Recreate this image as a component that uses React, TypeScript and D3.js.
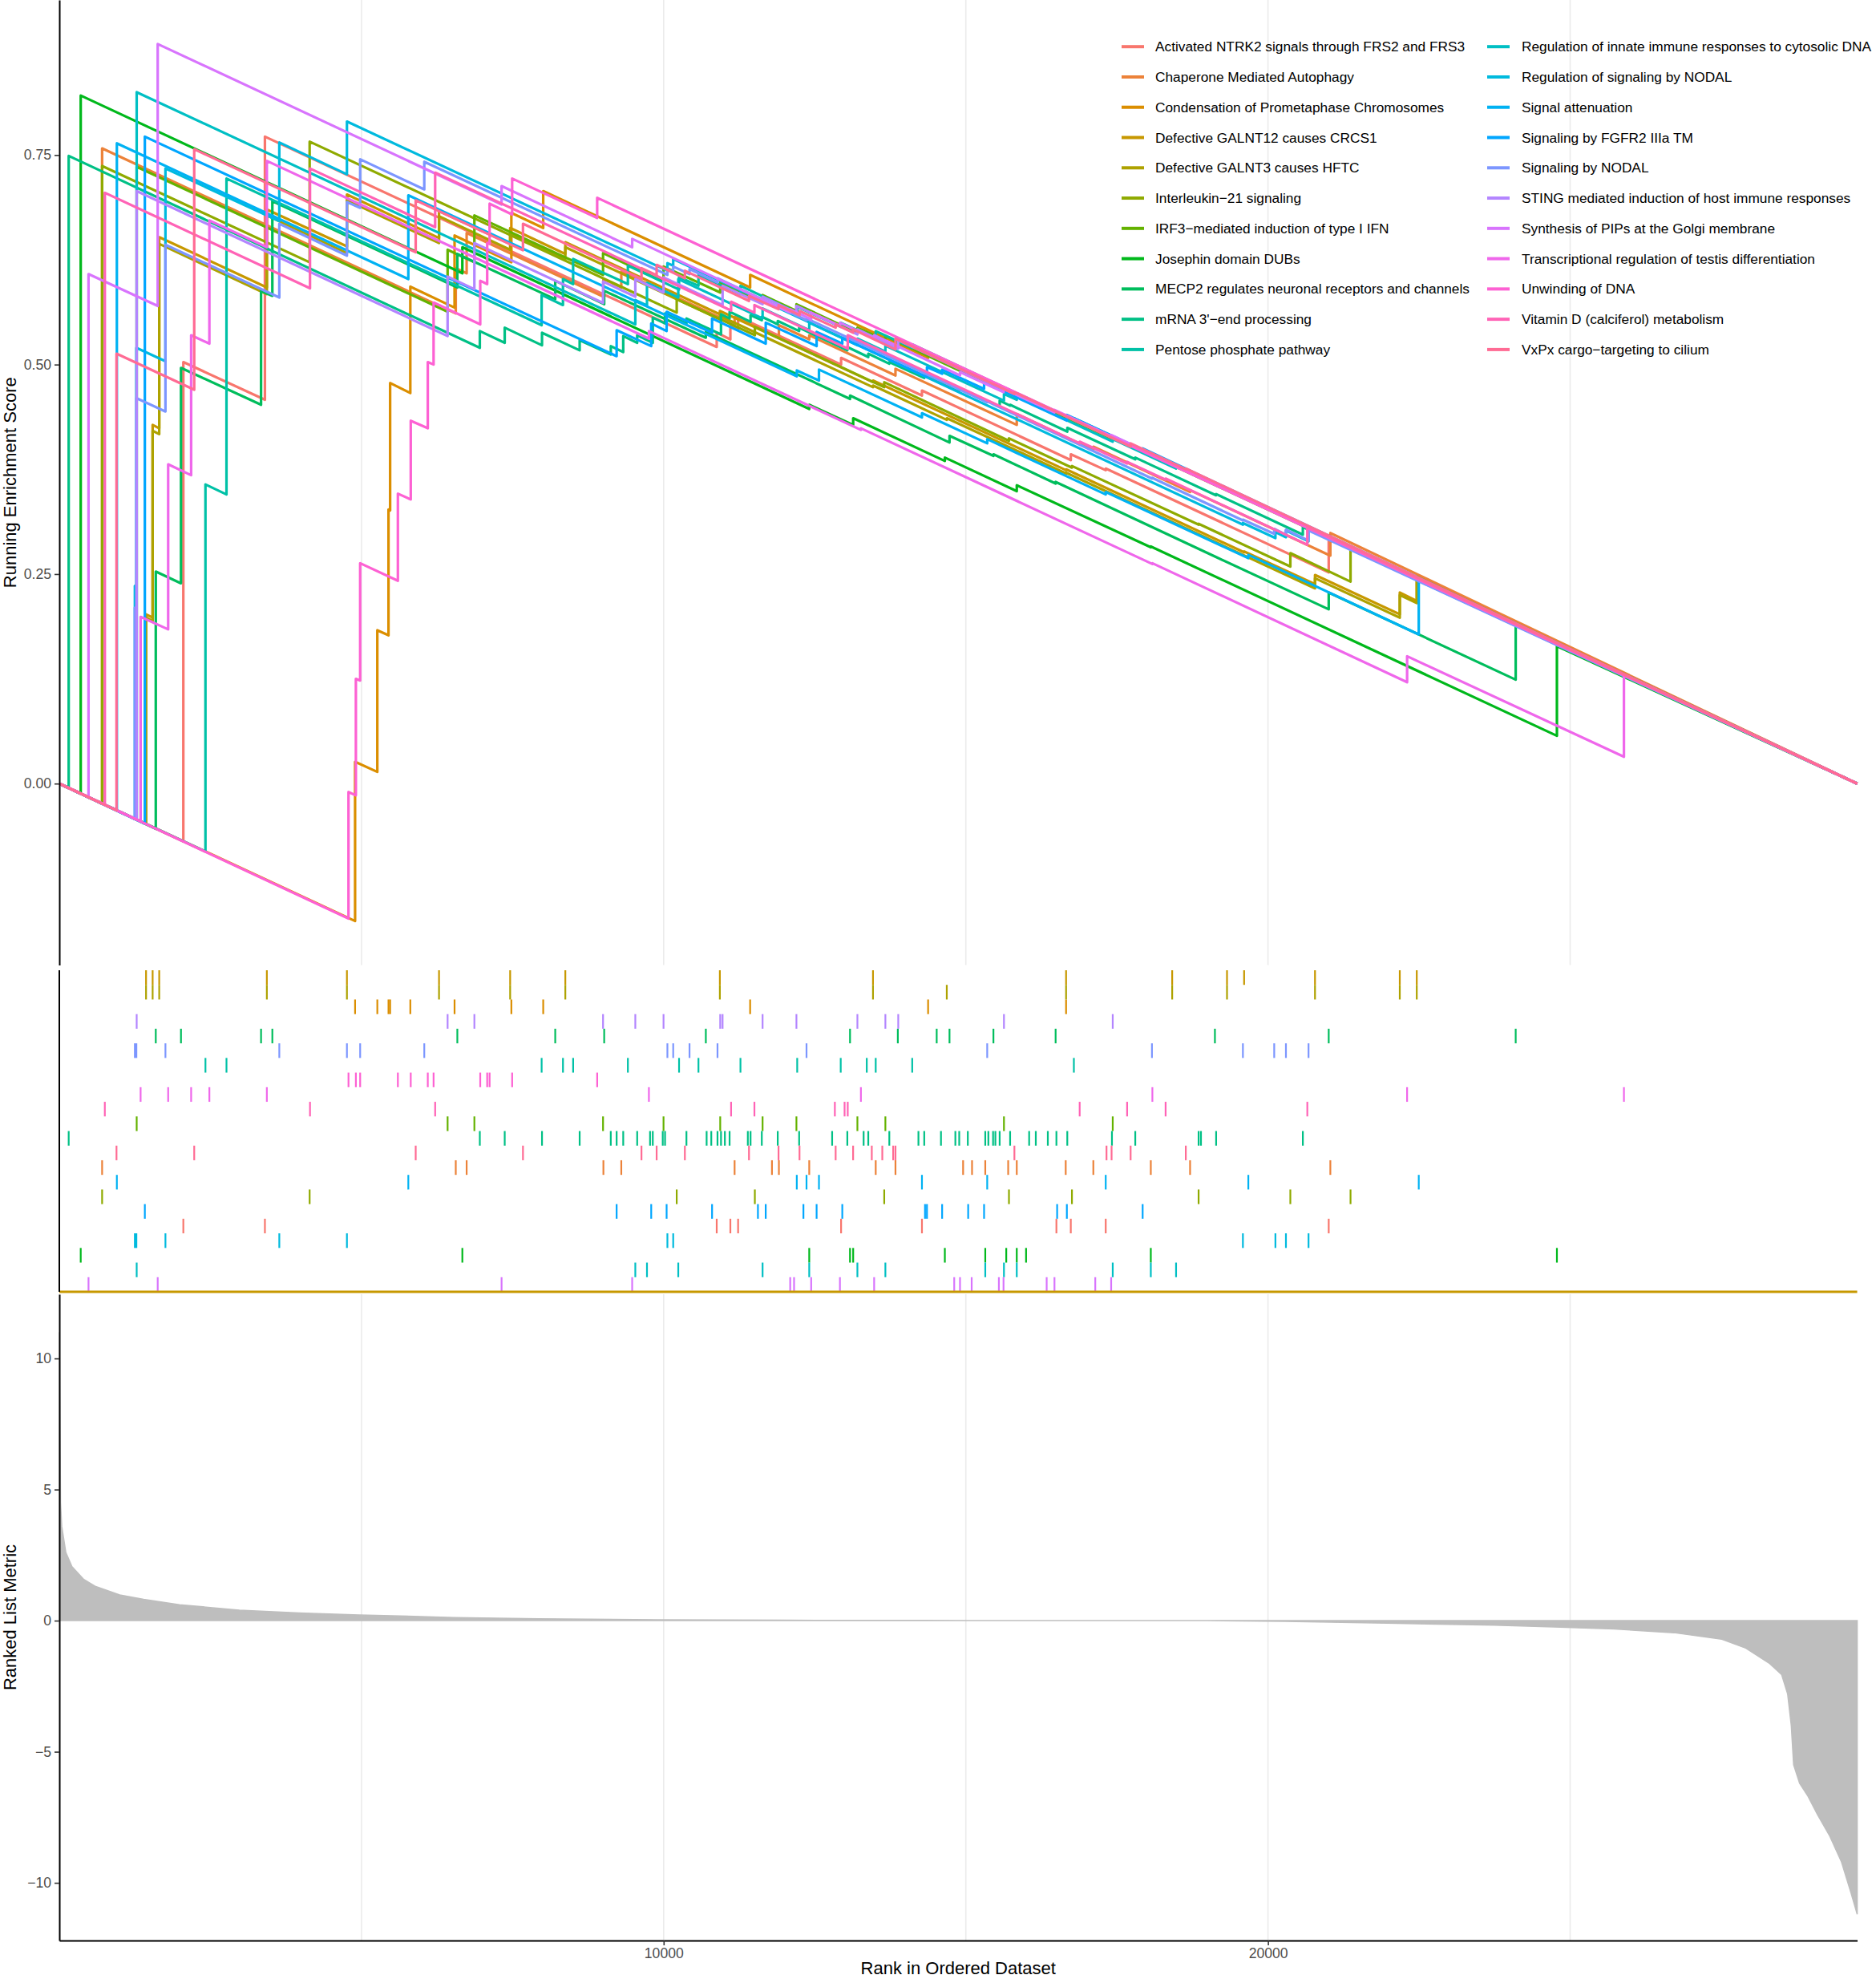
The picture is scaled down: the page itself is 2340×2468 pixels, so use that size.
import { useEffect, useRef } from "react";
import * as d3 from "d3";

// gene sets, in legend order (ggplot colours follow this order)
const setNames = [
  "Activated NTRK2 signals through FRS2 and FRS3",
  "Chaperone Mediated Autophagy",
  "Condensation of Prometaphase Chromosomes",
  "Defective GALNT12 causes CRCS1",
  "Defective GALNT3 causes HFTC",
  "Interleukin\u221221 signaling",
  "IRF3\u2212mediated induction of type I IFN",
  "Josephin domain DUBs",
  "MECP2 regulates neuronal receptors and channels",
  "mRNA 3'\u2212end processing",
  "Pentose phosphate pathway",
  "Regulation of innate immune responses to cytosolic DNA",
  "Regulation of signaling by NODAL",
  "Signal attenuation",
  "Signaling by FGFR2 IIIa TM",
  "Signaling by NODAL",
  "STING mediated induction of host immune responses",
  "Synthesis of PIPs at the Golgi membrane",
  "Transcriptional regulation of testis differentiation",
  "Unwinding of DNA",
  "Vitamin D (calciferol) metabolism",
  "VxPx cargo\u2212targeting to cilium",
];

// row of each set in the hit panel, 1 = top row
const rugRows = [18, 14, 3, 1, 2, 16, 11, 20, 5, 12, 7, 21, 19, 15, 17, 6, 4, 22, 9, 8, 10, 13];

// ranks of the genes of each set (hit panel)
const hitsNTRK2 = [2052, 3402, 10878, 11104, 11232, 12936, 14274, 16499, 16737, 17315, 21005];
const hitsChaperone = [708, 6560, 6740, 9003, 9299, 11174, 11792, 11907, 12409, 13509, 13836, 14955, 15103, 15322, 15701, 15843, 16653, 17110, 18061, 18711, 21032];
const hitsCondensation = [4894, 5262, 5447, 5474, 5808, 6540, 7480, 8007, 11431, 14376, 16659];
const hitsGALNT12 = [1435, 1544, 1653, 3434, 4759, 6283, 7460, 8373, 10930, 13464, 16659, 18415, 19322, 19605, 20778, 22181, 22462];
const hitsGALNT3 = [1435, 1544, 1653, 3434, 4759, 6283, 7460, 8373, 10930, 13464, 14685, 16659, 18415, 19322, 20778, 22181, 22462];
const hitsIL21 = [708, 4142, 10216, 11509, 13650, 15714, 16756, 18852, 20370, 21366];
const hitsIRF3 = [1280, 6425, 6868, 8997, 9998, 10936, 11637, 12197, 13206, 13669, 15631, 17431];
const hitsJosephin = [354, 6669, 12409, 13084, 13136, 14653, 15322, 15669, 15843, 15997, 18061, 24781];
const hitsMECP2 = [1596, 2013, 3338, 3525, 6586, 8206, 9016, 10698, 13084, 13875, 14518, 14730, 15457, 16486, 19122, 21005, 24099];
const hitsMRNA = [155, 6958, 7370, 7987, 8610, 9125, 9222, 9331, 9562, 9775, 9820, 9985, 10023, 10377, 10711, 10788, 10891, 10949, 11013, 11091, 11393, 11438, 11624, 11888, 12242, 12788, 13039, 13309, 13386, 13734, 14216, 14312, 14589, 14827, 14891, 15033, 15322, 15373, 15451, 15489, 15560, 15733, 16048, 16158, 16357, 16499, 16679, 17418, 17804, 18852, 18891, 19142, 20577];
const hitsPentose = [2418, 2766, 7981, 8334, 8502, 9408, 10255, 10576, 11271, 12210, 12930, 13361, 13509, 14113, 16788];
const hitsRegInnate = [1280, 9531, 9724, 10242, 11637, 12409, 13206, 13669, 15322, 15631, 15843, 17431, 18061, 18479];
const hitsRegNODAL = [1250, 1275, 1756, 3640, 4759, 10062, 10158, 19585, 20123, 20297, 20671];
const hitsSignalAtt = [952, 5775, 12203, 12364, 12570, 14274, 15354, 17315, 19675, 22495];
const hitsFGFR2 = [1415, 9222, 9794, 10049, 10801, 11560, 11689, 12313, 12531, 12956, 14325, 14357, 14608, 15039, 15302, 16511, 16672, 17926];
const hitsSigNODAL = [1250, 1275, 1756, 3640, 4759, 4978, 6039, 10062, 10158, 10428, 10891, 12364, 15354, 18080, 19585, 20103, 20297, 20671];
const hitsSTING = [1280, 6425, 6868, 8997, 9531, 9998, 10936, 10975, 11637, 12197, 13206, 13669, 13882, 15631, 17431];
const hitsPIPs = [483, 1628, 7318, 9479, 12094, 12158, 12441, 12917, 13483, 14808, 14904, 15097, 15547, 15624, 16338, 16467, 17142, 17405];
const hitsTestis = [1345, 1801, 2181, 2483, 3434, 9756, 13264, 18087, 22302, 25890];
const hitsUnwinding = [4785, 4907, 4978, 5602, 5815, 6097, 6193, 6965, 7080, 7120, 7493, 8900];
const hitsVitD = [753, 4148, 6219, 11116, 11502, 12833, 12994, 13046, 16884, 17669, 18306, 20651];
const hitsVxPx = [946, 2232, 5897, 7672, 9633, 9884, 10351, 11412, 11901, 12248, 12846, 13135, 13444, 13618, 13798, 13836, 15804, 17328, 17412, 17727, 18640];

const setHits = [hitsNTRK2, hitsChaperone, hitsCondensation, hitsGALNT12, hitsGALNT3, hitsIL21, hitsIRF3, hitsJosephin,
  hitsMECP2, hitsMRNA, hitsPentose, hitsRegInnate, hitsRegNODAL, hitsSignalAtt, hitsFGFR2, hitsSigNODAL, hitsSTING,
  hitsPIPs, hitsTestis, hitsUnwinding, hitsVitD, hitsVxPx];

// running enrichment score at the visible steps: [rank, ES before step, ES after step]
const esNTRK2 = [[2052, -0.069, 0.503], [3402, 0.458, 0.772], [10878, 0.521, 0.538], [11104, 0.530, 0.546], [11232, 0.542, 0.557], [12936, 0.500, 0.508], [14274, 0.463, 0.469], [16737, 0.386, 0.393], [17315, 0.374, 0.376], [21005, 0.252, 0.294]];
const esChaperone = [[708, -0.024, 0.758], [6560, 0.561, 0.615], [6740, 0.609, 0.657], [9003, 0.581, 0.602], [9299, 0.592, 0.611], [11174, 0.548, 0.557], [11907, 0.532, 0.547], [12409, 0.530, 0.535], [13836, 0.487, 0.495], [15843, 0.428, 0.441], [17110, 0.398, 0.402], [18711, 0.348, 0.350], [21032, 0.272, 0.299]];
const esCondensation = [[4894, -0.164, 0.026], [5262, 0.014, 0.183], [5447, 0.177, 0.327], [5474, 0.326, 0.478], [5808, 0.466, 0.593], [6540, 0.568, 0.654], [7480, 0.622, 0.681], [8007, 0.663, 0.707], [11431, 0.592, 0.607], [14376, 0.508, 0.514], [16659, 0.437, 0.440]];
const esGALNT12 = [[1435, -0.048, 0.202], [1544, 0.198, 0.428], [1653, 0.424, 0.652], [3434, 0.592, 0.685], [4759, 0.641, 0.703], [6283, 0.651, 0.683], [7460, 0.644, 0.663], [8373, 0.632, 0.646], [10930, 0.560, 0.564], [13464, 0.479, 0.481], [16659, 0.374, 0.375], [19605, 0.276, 0.277], [20778, 0.238, 0.249], [22181, 0.202, 0.228], [22462, 0.218, 0.247]];
const esGALNT3 = [[1435, -0.048, 0.198], [1544, 0.194, 0.421], [1653, 0.417, 0.644], [3434, 0.584, 0.678], [4759, 0.633, 0.696], [6283, 0.645, 0.677], [7460, 0.637, 0.657], [8373, 0.626, 0.640], [10930, 0.554, 0.558], [13464, 0.473, 0.475], [14685, 0.434, 0.436], [16659, 0.370, 0.371], [20778, 0.233, 0.245], [22181, 0.198, 0.225], [22462, 0.2155, 0.246]];
const esIL21 = [[708, -0.024, 0.737], [4142, 0.622, 0.766], [10216, 0.562, 0.578], [11509, 0.535, 0.545], [13650, 0.473, 0.479], [15714, 0.409, 0.412], [16756, 0.377, 0.379], [18852, 0.309, 0.310], [20370, 0.259, 0.275], [21366, 0.241, 0.281]];
const esIRF3 = [[1280, -0.043, 0.736], [6425, 0.563, 0.637], [6868, 0.622, 0.678], [8997, 0.607, 0.633], [9998, 0.599, 0.617], [10936, 0.586, 0.598], [11637, 0.574, 0.583], [12197, 0.564, 0.572], [13206, 0.538, 0.544], [13669, 0.529, 0.534], [15631, 0.468, 0.471], [17431, 0.411, 0.413]];
const esJosephin = [[354, -0.012, 0.821], [6669, 0.609, 0.640], [12409, 0.447, 0.452], [13136, 0.428, 0.436], [14653, 0.385, 0.389], [15843, 0.349, 0.356], [18061, 0.282, 0.283], [24781, 0.057, 0.164]];
const esMECP2 = [[1596, -0.054, 0.253], [2013, 0.239, 0.496], [3338, 0.452, 0.588], [3525, 0.582, 0.695], [6586, 0.592, 0.632], [8206, 0.578, 0.600], [9016, 0.572, 0.588], [10698, 0.532, 0.539], [13084, 0.459, 0.463], [14730, 0.407, 0.415], [15457, 0.391, 0.393], [16486, 0.358, 0.360], [19122, 0.271, 0.271], [21005, 0.208, 0.228], [24099, 0.124, 0.190]];
const esMRNA = [[155, -0.005, 0.749], [6958, 0.520, 0.540], [7370, 0.526, 0.544], [7987, 0.523, 0.538], [8610, 0.517, 0.529], [9125, 0.512, 0.522], [9331, 0.515, 0.534], [9562, 0.526, 0.535], [9820, 0.526, 0.556], [10023, 0.549, 0.561], [10377, 0.549, 0.555], [10949, 0.536, 0.560], [11091, 0.555, 0.563], [11438, 0.551, 0.559], [11624, 0.553, 0.557], [11888, 0.548, 0.552], [12242, 0.540, 0.544], [13039, 0.517, 0.521], [13386, 0.509, 0.513], [13734, 0.501, 0.503], [14312, 0.484, 0.487], [14891, 0.4675, 0.471], [15033, 0.466, 0.4675], [15560, 0.450, 0.457], [15733, 0.451, 0.452], [16679, 0.420, 0.4245], [17804, 0.387, 0.389], [19142, 0.344, 0.3455], [20577, 0.297, 0.306]];
const esPentose = [[2418, -0.081, 0.357], [2766, 0.345, 0.722], [7981, 0.547, 0.583], [8334, 0.571, 0.602], [8502, 0.596, 0.626], [9408, 0.596, 0.618], [10255, 0.5895, 0.6045], [10576, 0.594, 0.607], [11271, 0.584, 0.594], [12210, 0.562, 0.569], [12930, 0.545, 0.550], [13509, 0.531, 0.540], [14113, 0.520, 0.524], [16788, 0.434, 0.436]];
const esRegInnate = [[1280, -0.043, 0.825], [9531, 0.548, 0.577], [9724, 0.5705, 0.5975], [10242, 0.580, 0.602], [11637, 0.555, 0.567], [12409, 0.541, 0.550], [13206, 0.523, 0.531], [13669, 0.5155, 0.5225], [15631, 0.457, 0.465], [15843, 0.458, 0.4615], [17431, 0.408, 0.411], [18479, 0.376, 0.379]];
const esRegNODAL = [[1250, -0.042, 0.236], [1275, 0.235, 0.520], [1756, 0.504, 0.734], [3640, 0.671, 0.765], [4759, 0.727, 0.790], [10062, 0.612, 0.621], [10158, 0.618, 0.626], [19585, 0.309, 0.311], [20123, 0.293, 0.300], [20297, 0.294, 0.302], [20671, 0.289, 0.305]];
const esSignalAtt = [[952, -0.032, 0.764], [5775, 0.602, 0.702], [12203, 0.486, 0.493], [12570, 0.481, 0.494], [14274, 0.437, 0.442], [15354, 0.406, 0.411], [17315, 0.345, 0.348], [19675, 0.269, 0.273], [22495, 0.178, 0.244]];
const esFGFR2 = [[1415, -0.048, 0.772], [9222, 0.510, 0.541], [9794, 0.522, 0.549], [10049, 0.540, 0.563], [10801, 0.538, 0.555], [11689, 0.525, 0.550], [12531, 0.522, 0.539], [12956, 0.525, 0.532], [14357, 0.485, 0.497], [14608, 0.489, 0.494], [15302, 0.471, 0.479], [16672, 0.433, 0.440], [17926, 0.398, 0.400]];
const esSigNODAL = [[1250, -0.042, 0.210], [1275, 0.209, 0.460], [1756, 0.444, 0.643], [3640, 0.580, 0.668], [4759, 0.630, 0.694], [4978, 0.687, 0.745], [6039, 0.709, 0.742], [10062, 0.607, 0.614], [10158, 0.611, 0.617], [10428, 0.608, 0.614], [10891, 0.598, 0.603], [12364, 0.553, 0.555], [15354, 0.455, 0.456], [18080, 0.364, 0.365], [19585, 0.314, 0.315], [20103, 0.298, 0.304], [20297, 0.297, 0.303], [20671, 0.290, 0.302]];
const esSTING = [[1280, -0.043, 0.707], [6425, 0.534, 0.605], [6868, 0.590, 0.645], [8997, 0.5735, 0.599], [9531, 0.581, 0.602], [9998, 0.586, 0.604], [10975, 0.571, 0.594], [11637, 0.572, 0.581], [12197, 0.562, 0.570], [13206, 0.536, 0.542], [13882, 0.519, 0.529], [15631, 0.470, 0.473], [17431, 0.4125, 0.4145]];
const esPIPs = [[483, -0.016, 0.608], [1628, 0.570, 0.8825], [7318, 0.691, 0.713], [9479, 0.640, 0.650], [12094, 0.562, 0.566], [12441, 0.554, 0.562], [12917, 0.546, 0.550], [13483, 0.531, 0.535], [14904, 0.487, 0.491], [15624, 0.467, 0.471], [16467, 0.443, 0.446], [17405, 0.4145, 0.416]];
const esTestis = [[1345, -0.045, 0.199], [1801, 0.184, 0.381], [2181, 0.368, 0.535], [2483, 0.525, 0.672], [3434, 0.640, 0.743], [9756, 0.531, 0.540], [13264, 0.422, 0.424], [18087, 0.262, 0.263], [22302, 0.121, 0.152], [25890, 0.032, 0.130]];
const esUnwinding = [[4785, -0.161, -0.010], [4907, -0.014, 0.125], [4978, 0.123, 0.263], [5602, 0.242, 0.346], [5815, 0.339, 0.433], [6097, 0.424, 0.503], [6193, 0.500, 0.574], [6965, 0.548, 0.600], [7080, 0.596, 0.645], [7120, 0.644, 0.692], [7493, 0.679, 0.722], [8900, 0.675, 0.699]];
const esVitD = [[753, -0.025, 0.705], [4148, 0.591, 0.734], [6219, 0.664, 0.729], [11116, 0.5645, 0.575], [11502, 0.562, 0.571], [13046, 0.519, 0.535], [16884, 0.406, 0.408], [17669, 0.382, 0.384], [18306, 0.3626, 0.364], [20651, 0.285, 0.306]];
const esVxPx = [[946, -0.032, 0.513], [2232, 0.470, 0.757], [5897, 0.634, 0.696], [7672, 0.6364, 0.668], [9633, 0.602, 0.615], [9884, 0.6066, 0.619], [10351, 0.603, 0.612], [11412, 0.576, 0.582], [11901, 0.566, 0.571], [12248, 0.559, 0.564], [12846, 0.544, 0.548], [13135, 0.538, 0.542], [13836, 0.518, 0.531], [15804, 0.465, 0.467], [17727, 0.402, 0.406], [18640, 0.375, 0.376]];

const setSteps = [esNTRK2, esChaperone, esCondensation, esGALNT12, esGALNT3, esIL21, esIRF3, esJosephin,
  esMECP2, esMRNA, esPentose, esRegInnate, esRegNODAL, esSignalAtt, esFGFR2, esSigNODAL, esSTING,
  esPIPs, esTestis, esUnwinding, esVitD, esVxPx];

// ranked list metric, read along the sorted gene list
const metricRanks = [1, 8, 20, 40, 108, 207, 405, 603, 999, 1395, 1989, 2979, 3969, 4959, 6543, 7929, 9909, 12000, 14265, 15000, 17000, 19000, 20280, 21966, 23748, 24738, 25728, 26718, 27510, 27906, 28302, 28500, 28599, 28659, 28698, 28797, 28936, 29094, 29292, 29490, 29649, 29750];
const metricValues = [11.0, 8.5, 4.5, 3.6, 2.6, 2.07, 1.57, 1.3, 0.98, 0.81, 0.61, 0.40, 0.29, 0.22, 0.12, 0.07, 0.03, 0.015, 0.01, 0.0, 0.0, 0.0, -0.03, -0.1, -0.17, -0.24, -0.32, -0.46, -0.71, -1.05, -1.64, -2.06, -2.8, -4.0, -5.5, -6.2, -6.7, -7.4, -8.2, -9.2, -10.4, -11.2];

const nGenes = 29750;
const esTicks = [0, 0.25, 0.5, 0.75];
const metricTicks = [-10, -5, 0, 5, 10];
const rankTicks = [10000, 20000];
const gridRanks = [5000, 10000, 15000, 20000, 25000];

// R's hcl() (polar LUV), as ggplot's hue palette uses it
function hcl(h: number, c = 100, l = 65) {
  const hr = (h * Math.PI) / 180;
  const Xn = 95.047, Yn = 100, Zn = 108.883;
  const den = Xn + 15 * Yn + 3 * Zn;
  const un = (4 * Xn) / den, vn = (9 * Yn) / den;
  const Y = Yn * Math.pow((l + 16) / 116, 3);
  const u = (c * Math.cos(hr)) / (13 * l) + un;
  const v = (c * Math.sin(hr)) / (13 * l) + vn;
  const X = (Y * 9 * u) / (4 * v);
  const Z = (Y * (12 - 3 * u - 20 * v)) / (4 * v);
  const x = X / 100, y = Y / 100, z = Z / 100;
  const lin = [
    3.240479 * x - 1.53715 * y - 0.498535 * z,
    -0.969256 * x + 1.875992 * y + 0.041556 * z,
    0.055648 * x - 0.204043 * y + 1.057311 * z,
  ];
  const g = lin.map((t) => {
    const s = t <= 0.0031308 ? 12.92 * t : 1.055 * Math.pow(t, 1 / 2.4) - 0.055;
    return Math.round(Math.max(0, Math.min(1, s)) * 255);
  });
  return d3.rgb(g[0], g[1], g[2]).formatHex();
}

const FONT = "'Liberation Sans', Arial, Helvetica, sans-serif";

export default function App() {
  const ref = useRef<SVGSVGElement>(null);

  useEffect(() => {
    if (!ref.current) return;
    const svg = d3.select(ref.current);
    svg.selectAll("*").remove();

    const colors = setNames.map((_, i) => hcl(15 + (i * 360) / setNames.length));

    // panel layout (px)
    const left = 74;
    const right = left + nGenes * 0.07538;
    const esTop = 0, esBottom = 1203.5;
    const rugTop = 1210, rugBottom = 1611;
    const metTop = 1614, metBottom = 2420;

    const x = d3.scaleLinear().domain([0, nGenes]).range([left, right]);
    const yES = d3.scaleLinear().domain([-0.2165, 0.935]).range([esBottom, esTop]);
    const yMet = d3.scaleLinear().domain([-12.2, 12.45]).range([metBottom, metTop]);

    // vertical grid lines (top and bottom panels)
    const grid = svg.append("g").attr("stroke", "#EBEBEB").attr("stroke-width", 1.6);
    gridRanks.forEach((r) => {
      grid.append("line").attr("x1", x(r)).attr("x2", x(r)).attr("y1", esTop).attr("y2", esBottom);
      grid.append("line").attr("x1", x(r)).attr("x2", x(r)).attr("y1", metTop).attr("y2", metBottom);
    });

    // running enrichment score lines
    const line = d3.line<number[]>().x((d) => x(d[0])).y((d) => yES(d[1]));
    setSteps.forEach((steps, i) => {
      const pts: number[][] = [[0, 0]];
      steps.forEach((s) => {
        pts.push([s[0], s[1]]);
        pts.push([s[0], s[2]]);
      });
      pts.push([nGenes, 0]);
      svg.append("path")
        .attr("d", line(pts))
        .attr("fill", "none")
        .attr("stroke", colors[i])
        .attr("stroke-width", 3.2)
        .attr("stroke-linejoin", "round");
    });

    // legend (inside the top panel, two columns)
    const legend = svg.append("g").style("font-family", FONT).style("font-size", "17.3px");
    setNames.forEach((name, i) => {
      const col = i < 11 ? 0 : 1;
      const row = i % 11;
      const ky = 58.2 + row * 37.77;
      const kx = col === 0 ? 1399 : 1855;
      legend.append("line")
        .attr("x1", kx).attr("x2", kx + 28).attr("y1", ky).attr("y2", ky)
        .attr("stroke", colors[i]).attr("stroke-width", 4);
      legend.append("text")
        .attr("x", col === 0 ? 1441 : 1898)
        .attr("y", ky)
        .attr("dy", "0.35em")
        .attr("fill", "#000")
        .text(name);
    });

    // hit panel
    const rowH = (rugBottom - rugTop) / 22;
    const rug = svg.append("g");
    setHits.forEach((hits, i) => {
      const r = rugRows[i];
      hits.forEach((h) => {
        rug.append("line")
          .attr("x1", x(h)).attr("x2", x(h))
          .attr("y1", rugTop + (r - 1) * rowH)
          .attr("y2", rugTop + r * rowH)
          .attr("stroke", colors[i])
          .attr("stroke-width", 2.2);
      });
    });
    svg.append("line")
      .attr("x1", left).attr("x2", right).attr("y1", rugBottom).attr("y2", rugBottom)
      .attr("stroke", colors[3]).attr("stroke-width", 3);
    svg.append("line")
      .attr("x1", left).attr("x2", left).attr("y1", rugTop).attr("y2", rugBottom)
      .attr("stroke", "#000").attr("stroke-width", 2);

    // ranked list metric (grey bars drawn as one area, outlined so the flat middle stays visible)
    const metric = metricRanks.map((r, i) => [r, metricValues[i]]);
    const area = d3.area<number[]>()
      .x((d) => x(d[0]))
      .y0(yMet(0))
      .y1((d) => yMet(d[1]));
    svg.append("path")
      .attr("d", area(metric))
      .attr("fill", "#BEBEBE")
      .attr("stroke", "#BEBEBE")
      .attr("stroke-width", 1.5);

    // axes
    const styleAxis = (g: d3.Selection<SVGGElement, unknown, null, undefined>) => {
      g.selectAll(".domain").attr("stroke", "#000").attr("stroke-width", 2);
      g.selectAll(".tick line").attr("stroke", "#333333").attr("stroke-width", 1.6);
      g.selectAll(".tick text").attr("fill", "#4D4D4D").style("font-family", FONT).style("font-size", "17.6px");
    };

    svg.append("g")
      .attr("transform", `translate(${left},0)`)
      .call(d3.axisLeft(yES).tickValues(esTicks).tickFormat(d3.format(".2f")).tickSize(6).tickSizeOuter(0).tickPadding(4))
      .call(styleAxis);

    svg.append("g")
      .attr("transform", `translate(${left},0)`)
      .call(d3.axisLeft(yMet).tickValues(metricTicks).tickFormat(d3.format("d")).tickSize(6).tickSizeOuter(0).tickPadding(4))
      .call(styleAxis);

    svg.append("g")
      .attr("transform", `translate(0,${metBottom})`)
      .call(d3.axisBottom(x).tickValues(rankTicks).tickFormat(d3.format("d")).tickSize(6).tickSizeOuter(0).tickPadding(4))
      .call(styleAxis);

    // axis titles
    const titles = svg.append("g").style("font-family", FONT).style("font-size", "22px").attr("fill", "#000");
    titles.append("text")
      .attr("transform", `translate(20,${(esTop + esBottom) / 2}) rotate(-90)`)
      .attr("text-anchor", "middle")
      .text("Running Enrichment Score");
    titles.append("text")
      .attr("transform", `translate(20,${(metTop + metBottom) / 2}) rotate(-90)`)
      .attr("text-anchor", "middle")
      .text("Ranked List Metric");
    titles.append("text")
      .attr("x", (left + right) / 2)
      .attr("y", 2462)
      .attr("text-anchor", "middle")
      .text("Rank in Ordered Dataset");
  }, []);

  return (
    <div>
      <style>{"body{margin:0;background:#fff}"}</style>
      <svg ref={ref} width={2340} height={2468} style={{ display: "block", background: "#fff" }} />
    </div>
  );
}
